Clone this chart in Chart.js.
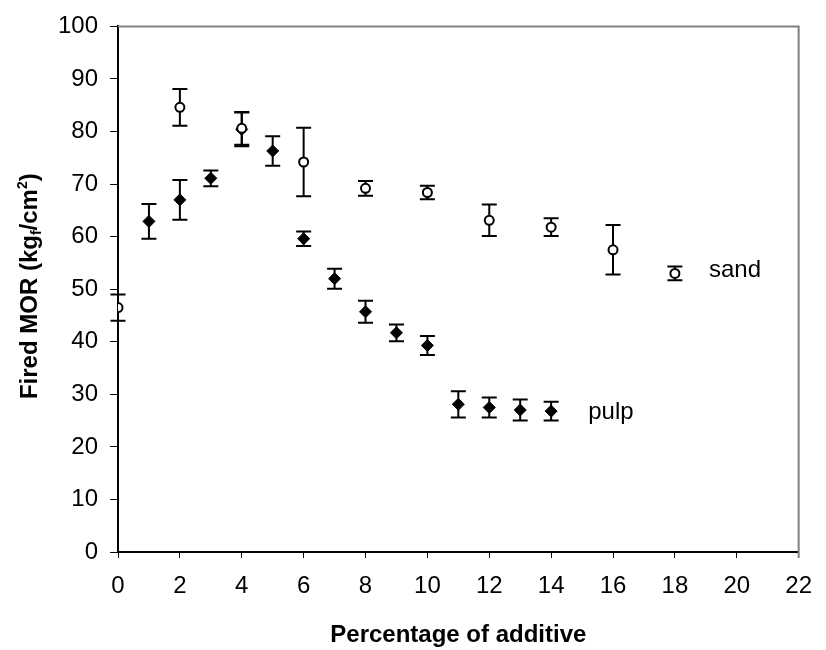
<!DOCTYPE html>
<html>
<head>
<meta charset="utf-8">
<script src="https://cdn.jsdelivr.net/npm/chart.js@4"></script>
<style>
  html, body { margin: 0; padding: 0; background: #fff; }
  #wrap { width: 826px; height: 650px; }
</style>
</head>
<body>
<div id="wrap"><canvas id="morChart" width="826" height="650"></canvas></div>
<script>
// data
var pulpX = [1, 2, 3, 4, 5, 6, 7, 8, 9, 10, 11, 12, 13, 14];
var pulpMor = [62.9, 67.0, 71.1, 80.4, 76.3, 59.6, 52.0, 45.7, 41.7, 39.3, 28.1, 27.5, 27.0, 26.8];
var pulpErr = [3.3, 3.8, 1.5, 3.2, 2.8, 1.4, 1.9, 2.1, 1.6, 1.8, 2.5, 1.9, 2.0, 1.8];

var sandX = [0, 2, 4, 6, 8, 10, 12, 14, 16, 18];
var sandMor = [46.5, 84.6, 80.6, 74.2, 69.2, 68.4, 63.1, 61.8, 57.5, 53.0];
var sandErr = [2.5, 3.5, 3.1, 6.5, 1.4, 1.3, 3.0, 1.7, 4.7, 1.3];

// series labels placed next to the last points
var seriesLabels = [
  { text: "sand", x: 19.1, y: 53.6 },
  { text: "pulp", x: 15.2, y: 26.6 }
];

// y title pieces: [text, size, baseline shift]
var yTitleParts = [
  ["Fired MOR (kg", 24, 0],
  ["f", 14, 4],
  ["/cm", 24, 0],
  ["2", 14, -10],
  [")", 24, 0]
];

function toPoints(xs, ys) {
  return xs.map(function (x, i) { return { x: x, y: ys[i] }; });
}

var FONT = "'Liberation Sans', Arial, sans-serif";

// error bars, drawn under the markers
var errorBars = {
  id: "errorBars",
  beforeDatasetsDraw: function (chart) {
    var ctx = chart.ctx;
    var xs = chart.scales.x;
    var ys = chart.scales.y;
    var sets = [[sandX, sandMor, sandErr], [pulpX, pulpMor, pulpErr]];
    ctx.save();
    ctx.strokeStyle = "#000";
    ctx.lineWidth = 2;
    sets.forEach(function (s) {
      s[0].forEach(function (xv, i) {
        var px = xs.getPixelForValue(xv);
        var top = ys.getPixelForValue(s[1][i] + s[2][i]);
        var bot = ys.getPixelForValue(s[1][i] - s[2][i]);
        ctx.beginPath();
        ctx.moveTo(px, top);
        ctx.lineTo(px, bot);
        ctx.moveTo(px - 7.5, top);
        ctx.lineTo(px + 7.5, top);
        ctx.moveTo(px - 7.5, bot);
        ctx.lineTo(px + 7.5, bot);
        ctx.stroke();
      });
    });
    ctx.restore();
  },
  afterDraw: function (chart) {
    var ctx = chart.ctx;
    var a = chart.chartArea;
    ctx.save();
    // gray top and right frame
    ctx.strokeStyle = "#808080";
    ctx.lineWidth = 2;
    ctx.beginPath();
    ctx.moveTo(a.left, a.top);
    ctx.lineTo(a.right, a.top);
    ctx.lineTo(a.right, a.bottom + 6);
    ctx.stroke();
    // series names
    ctx.fillStyle = "#000";
    ctx.font = "24px " + FONT;
    ctx.textBaseline = "middle";
    ctx.textAlign = "left";
    seriesLabels.forEach(function (l) {
      ctx.fillText(l.text, chart.scales.x.getPixelForValue(l.x), chart.scales.y.getPixelForValue(l.y));
    });
    // y axis title with sub/superscript
    var total = 0;
    yTitleParts.forEach(function (p) {
      ctx.font = "bold " + p[1] + "px " + FONT;
      total += ctx.measureText(p[0]).width;
    });
    ctx.translate(37, (a.top + a.bottom) / 2 - 3);
    ctx.rotate(-Math.PI / 2);
    ctx.textBaseline = "alphabetic";
    var cx = -total / 2;
    yTitleParts.forEach(function (p) {
      ctx.font = "bold " + p[1] + "px " + FONT;
      ctx.fillText(p[0], cx, p[2]);
      cx += ctx.measureText(p[0]).width;
    });
    ctx.restore();
  }
};

Chart.defaults.font.family = FONT;
Chart.defaults.color = "#000";

var ctx = document.getElementById("morChart").getContext("2d");
var myChart = new Chart(ctx, {
  type: "scatter",
  data: {
    datasets: [
      {
        label: "sand",
        data: toPoints(sandX, sandMor),
        pointStyle: "circle",
        pointRadius: 4.5,
        pointBackgroundColor: "#fff",
        pointBorderColor: "#000",
        pointBorderWidth: 2,
        showLine: false
      },
      {
        label: "pulp",
        data: toPoints(pulpX, pulpMor),
        pointStyle: "rectRot",
        pointRadius: 6,
        pointBackgroundColor: "#000",
        pointBorderColor: "#000",
        pointBorderWidth: 1,
        showLine: false
      }
    ]
  },
  options: {
    responsive: false,
    animation: false,
    layout: { padding: { left: 0, right: 17, top: 23, bottom: 0 } },
    plugins: {
      legend: { display: false },
      tooltip: { enabled: false }
    },
    scales: {
      x: {
        type: "linear",
        min: 0,
        max: 22,
        ticks: { stepSize: 2, font: { size: 24 }, padding: 14 },
        grid: { drawOnChartArea: false, drawTicks: true, tickLength: 6, color: "#000", lineWidth: 1 },
        border: { display: true, color: "#000", width: 2 },
        title: {
          display: true,
          text: "Percentage of additive",
          font: { size: 24, weight: "bold" },
          padding: { top: 12, bottom: 0 }
        },
        afterFit: function (scale) { scale.height = 98; }
      },
      y: {
        type: "linear",
        min: 0,
        max: 100,
        ticks: { stepSize: 10, font: { size: 24 }, padding: 12 },
        grid: { drawOnChartArea: false, drawTicks: true, tickLength: 8, color: "#000", lineWidth: 1 },
        border: { display: true, color: "#000", width: 2 },
        title: { display: false },
        afterFit: function (scale) { scale.width = 118; }
      }
    }
  },
  plugins: [errorBars]
});
</script>
</body>
</html>
